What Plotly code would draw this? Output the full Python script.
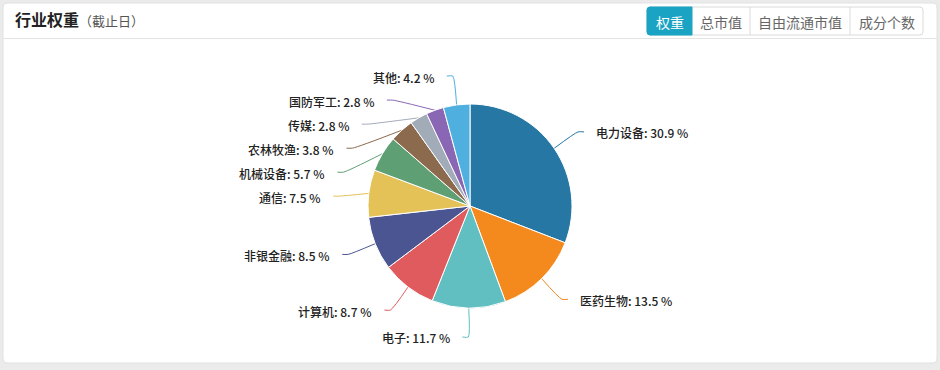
import math
import plotly.graph_objects as go

# ---------------- data ----------------
categories = ["电力设备", "医药生物", "电子", "计算机", "非银金融", "通信",
              "机械设备", "农林牧渔", "传媒", "国防军工", "其他"]
weights = [30.9, 13.5, 11.7, 8.7, 8.5, 7.5, 5.7, 3.8, 2.8, 2.8, 4.2]
slice_colors = ["#2677a3", "#f48a1e", "#62bfc1", "#e05b5d", "#4b5591", "#e4c257",
                "#5e9f73", "#8b6a4d", "#a2abb8", "#8a67b4", "#4fb0df"]
title_text = "行业权重"
title_note = "（截止日）"
tab_labels = ["权重", "总市值", "自由流通市值", "成分个数"]
active_tab = 0

# ---------------- layout params ----------------
W, H = 940, 370
CX, CY, R = 470, 206, 102
LEN1, LEN2, GAP, LINE_H = 29, 6, 10, 24
FONT = "Noto Sans CJK SC, Noto Sans, sans-serif"
TEAL = "#1aa3c2"
tab_edges = [647, 692, 750, 850, 923]
TAB_Y0, TAB_Y1 = 7, 35


def rounded_path(x0, y0, x1, y1, r, corners=(True, True, True, True)):
    tl, tr, br, bl = corners
    p = []
    p.append(f"M{x0 + (r if tl else 0)},{y0}")
    p.append(f"L{x1 - (r if tr else 0)},{y0}")
    if tr:
        p.append(f"Q{x1},{y0} {x1},{y0 + r}")
    p.append(f"L{x1},{y1 - (r if br else 0)}")
    if br:
        p.append(f"Q{x1},{y1} {x1 - r},{y1}")
    p.append(f"L{x0 + (r if bl else 0)},{y1}")
    if bl:
        p.append(f"Q{x0},{y1} {x0},{y1 - r}")
    p.append(f"L{x0},{y0 + (r if tl else 0)}")
    if tl:
        p.append(f"Q{x0},{y0} {x0 + r},{y0}")
    p.append("Z")
    return " ".join(p)


fig = go.Figure()

fig.add_trace(go.Pie(
    values=weights, labels=categories, sort=False, direction="clockwise", rotation=0,
    marker=dict(colors=slice_colors, line=dict(color="white", width=1)),
    textinfo="none", hoverinfo="label+percent", showlegend=False,
    domain=dict(x=[(CX - R) / W, (CX + R) / W], y=[(H - CY - R) / H, (H - CY + R) / H]),
))

# ---------------- label layout (echarts-like) ----------------
total = sum(weights)
items = []
acc = 0.0
for i, (c, v) in enumerate(zip(categories, weights)):
    mid = (acc + v / 2) / total * 2 * math.pi
    acc += v
    sx, sy = math.sin(mid), -math.cos(mid)
    d = -1 if sx < 0 else 1
    x1, y1 = CX + R * sx, CY + R * sy
    x2, y2 = CX + (R + LEN1) * sx, CY + (R + LEN1) * sy
    items.append(dict(i=i, d=d, x1=x1, y1=y1, x2=x2, y2=y2, x3=x2 + d * LEN2, y=y2))

rA = R + LEN1
for side in (-1, 1):
    lst = sorted([it for it in items if it["d"] == side], key=lambda it: it["y"])
    shifted = False
    prev = None
    for it in lst:
        if prev is not None and it["y"] < prev + LINE_H:
            it["y"] = prev + LINE_H
            shifted = True
        prev = it["y"]
    if not shifted:
        for it in lst:
            it["y2"] = it["y"]
        continue
    for semi in ([it for it in lst if it["y"] <= CY], [it for it in lst if it["y"] > CY]):
        if not semi:
            continue
        top = max(semi, key=lambda it: abs(it["y"] - CY))
        dy = abs(top["y"] - CY)
        dx = top["x2"] - CX
        rB = dy / math.sqrt(1 - dx * dx / (rA * rA)) if abs(dx) < rA else rA
        for it in semi:
            ddy = abs(it["y"] - CY)
            ddx = math.sqrt(max(0.0, 1 - ddy * ddy / (rB * rB))) * rA
            it["x3"] = CX + side * (ddx + LEN2)
            it["x2"] = it["x3"] - side * LEN2
            it["y2"] = it["y"]

annotations = []
for it in items:
    i = it["i"]
    fig.add_trace(go.Scatter(
        x=[it["x1"], it["x2"], it["x3"]], y=[it["y1"], it["y2"], it["y"]],
        mode="lines", line=dict(color=slice_colors[i], width=1, shape="spline", smoothing=0.6),
        hoverinfo="skip", showlegend=False,
    ))
    annotations.append(dict(
        x=it["x3"] + it["d"] * GAP, y=it["y"] + 1, xref="x", yref="y",
        xanchor="left" if it["d"] > 0 else "right", yanchor="middle",
        text=f"{categories[i]}: {weights[i]} %", showarrow=False,
        font=dict(family=FONT, size=12, color="#222", weight=500),
    ))

# ---------------- header ----------------
annotations.append(dict(
    x=13, y=19, xref="x", yref="y", xanchor="left", yanchor="middle", showarrow=False,
    text=f"<b>{title_text}</b><span style='font-size:13px;color:#555'>{title_note}</span>",
    font=dict(family=FONT, size=16, color="#222"),
))

shapes = [
    dict(type="path", xref="x", yref="y", layer="below",
         path=rounded_path(3, 3, 937, 363, 5), fillcolor="white",
         line=dict(color="#e2e2e2", width=1)),
    dict(type="line", xref="x", yref="y", layer="below", x0=3, x1=937, y0=38.5, y1=38.5,
         line=dict(color="#e4e4e4", width=1)),
    dict(type="path", xref="x", yref="y", layer="below",
         path=rounded_path(tab_edges[0], TAB_Y0, tab_edges[-1], TAB_Y1, 3), fillcolor="white",
         line=dict(color="#dadada", width=1)),
]
for k, lab in enumerate(tab_labels):
    xa, xb = tab_edges[k], tab_edges[k + 1]
    if k == active_tab:
        shapes.append(dict(type="path", xref="x", yref="y", layer="below",
                           path=rounded_path(xa, TAB_Y0, xb, TAB_Y1, 3,
                                             (k == 0, k == len(tab_labels) - 1,
                                              k == len(tab_labels) - 1, k == 0)),
                           fillcolor=TEAL, line=dict(color=TEAL, width=1)))
    elif k > 0 and k - 1 != active_tab:
        shapes.append(dict(type="line", xref="x", yref="y", layer="below",
                           x0=xa, x1=xa, y0=TAB_Y0, y1=TAB_Y1,
                           line=dict(color="#dadada", width=1)))
    annotations.append(dict(
        x=(xa + xb) / 2, y=(TAB_Y0 + TAB_Y1) / 2 + 0.5, xref="x", yref="y",
        xanchor="center", yanchor="middle", showarrow=False, text=lab,
        font=dict(family=FONT, size=14, color="white" if k == active_tab else "#666"),
    ))

fig.update_layout(
    width=W, height=H, margin=dict(l=0, r=0, t=0, b=0),
    paper_bgcolor="#ebebeb", plot_bgcolor="rgba(0,0,0,0)",
    xaxis=dict(range=[0, W], visible=False, fixedrange=True, domain=[0, 1]),
    yaxis=dict(range=[H, 0], visible=False, fixedrange=True, domain=[0, 1]),
    shapes=shapes, annotations=annotations, showlegend=False,
)

fig.write_html("out.html")
